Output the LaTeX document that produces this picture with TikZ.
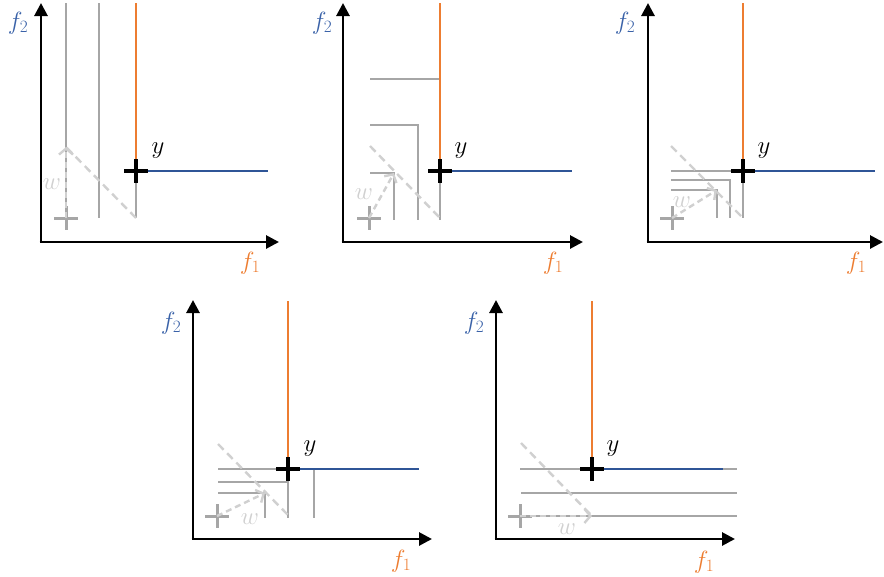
\documentclass[tikz,border=0pt]{standalone}
\usetikzlibrary{arrows.meta}
\definecolor{gline}{HTML}{A6A6A6}
\definecolor{lgray}{HTML}{D0D0D0}
\definecolor{ora}{HTML}{ED7D31}
\definecolor{blu}{HTML}{2F5597}
\definecolor{blutxt}{HTML}{3A62A8}
\begin{document}
\begin{tikzpicture}[x=1pt,y=-1pt,
  axis/.style={line width=2.8pt,-{Triangle[length=13pt,width=13pt]}},
  front/.style={line width=2.5pt,gline},
  pareto/.style={line width=2.8pt,ora},
  paretob/.style={line width=2.8pt,blu},
  diag/.style={line width=2.4pt,lgray,dash pattern=on 8pt off 5pt},
  warrow/.style={line width=2.4pt,lgray,dash pattern=on 6pt off 4pt,-{Straight Barb[length=6pt,width=14pt,line width=2.4pt]}},
  crossg/.style={line width=3pt,gline},
  crossb/.style={line width=3.4pt,black},
  lab/.style={inner sep=0pt,font=\fontsize{25}{30}\selectfont},
  f1lab/.style={lab,text=ora},
  f2lab/.style={lab,text=blutxt},
  wlab/.style={lab,text=lgray},
  ylab/.style={lab,text=black}]
\useasboundingbox (0,0) rectangle (884,576);

% ================= Panel 1 =================
\coordinate (o1) at (41,242); \coordinate (ya1) at (41,3); \coordinate (xa1) at (279,242);
\coordinate (y1) at (136,171); \coordinate (w1) at (66,218); \coordinate (wt1) at (66,147);
\coordinate (ga1) at (66,3); \coordinate (gb1) at (99,3); \coordinate (gbb1) at (99,218);
\coordinate (yt1) at (136,3); \coordinate (yb1) at (136,218); \coordinate (be1) at (268,171);
\draw[front] (ga1) -- (w1);
\draw[front] (gb1) -- (gbb1);
\draw[front] (y1) -- (yb1);
\draw[diag] (yb1) -- (wt1);
\draw[crossg] (w1) ++(-12,0) -- ++(24,0) (w1) ++(0,-12) -- ++(0,24);
\draw[warrow] (w1) -- (wt1);
\draw[pareto] (yt1) -- (y1);
\draw[paretob] (y1) -- (be1);
\draw[crossb] (y1) ++(-12,0) -- ++(24,0) (y1) ++(0,-12) -- ++(0,24);
\draw[axis] (o1) -- (ya1);
\draw[axis] ([xshift=-1.4pt]o1) -- (xa1);
\node[f2lab] (f2a) at (18,23) {$f_2$};
\node[f1lab] (f1a) at (250,263) {$f_1$};
\node[ylab] (ya) at (158,151) {$y$};
\node[wlab] (wa) at (52,184) {$w$};

% ================= Panel 2 =================
\coordinate (o2) at (343,242); \coordinate (ya2) at (343,3); \coordinate (xa2) at (583,242);
\coordinate (y2) at (440,171); \coordinate (w2) at (369,218); \coordinate (wt2) at (394,173);
\coordinate (yt2) at (440,3); \coordinate (yb2) at (440,220); \coordinate (be2) at (572,171);
\draw[front] (370,79) -- (440,79);
\draw[front] (370,125) -- (418,125) -- (418,220);
\draw[front] (370,173) -- (394,173) -- (394,220);
\draw[front] (y2) -- (yb2);
\draw[diag] (370,146) -- (440,218);
\draw[crossg] (w2) ++(-12,0) -- ++(24,0) (w2) ++(0,-12) -- ++(0,24);
\draw[warrow] (w2) -- (wt2);
\draw[pareto] (yt2) -- (y2);
\draw[paretob] (y2) -- (be2);
\draw[crossb] (y2) ++(-12,0) -- ++(24,0) (y2) ++(0,-12) -- ++(0,24);
\draw[axis] (o2) -- (ya2);
\draw[axis] ([xshift=-1.4pt]o2) -- (xa2);
\node[f2lab] (f2b) at (322,23) {$f_2$};
\node[f1lab] (f1b) at (553,263) {$f_1$};
\node[ylab] (yb) at (461,151) {$y$};
\node[wlab] (wb) at (364,194) {$w$};

% ================= Panel 3 =================
\coordinate (o3) at (648,242); \coordinate (ya3) at (648,3); \coordinate (xa3) at (883,242);
\coordinate (y3) at (743,171); \coordinate (w3) at (672,218); \coordinate (wt3) at (717,190);
\coordinate (yt3) at (743,3); \coordinate (yb3) at (743,218); \coordinate (be3) at (875,171);
\draw[front] (671,171) -- (y3);
\draw[front] (671,180) -- (730,180) -- (730,218);
\draw[front] (671,190) -- (717,190) -- (717,218);
\draw[front] (y3) -- (yb3);
\draw[diag] (671,146) -- (743,218);
\draw[crossg] (w3) ++(-12,0) -- ++(24,0) (w3) ++(0,-12) -- ++(0,24);
\draw[warrow] (w3) -- (wt3);
\draw[pareto] (yt3) -- (y3);
\draw[paretob] (y3) -- (be3);
\draw[crossb] (y3) ++(-12,0) -- ++(24,0) (y3) ++(0,-12) -- ++(0,24);
\draw[axis] (o3) -- (ya3);
\draw[axis] ([xshift=-1.4pt]o3) -- (xa3);
\node[f2lab] (f2c) at (625,23) {$f_2$};
\node[f1lab] (f1c) at (856,263) {$f_1$};
\node[ylab] (yc) at (764,151) {$y$};
\node[wlab] (wc) at (682,202) {$w$};

% ================= Panel 4 =================
\coordinate (o4) at (193,539); \coordinate (ya4) at (193,300); \coordinate (xa4) at (432,539);
\coordinate (y4) at (288,469); \coordinate (w4) at (217,516); \coordinate (wt4) at (265,493);
\coordinate (yt4) at (288,301); \coordinate (yb4) at (288,518); \coordinate (be4) at (419,469);
\draw[front] (218,469) -- (y4);
\draw[front] (218,482) -- (288,482);
\draw[front] (218,493) -- (265,493) -- (265,518);
\draw[front] (y4) -- (yb4);
\draw[front] (314,469) -- (314,518);
\draw[diag] (218,444) -- (288,515);
\draw[crossg] (w4) ++(-12,0) -- ++(24,0) (w4) ++(0,-12) -- ++(0,24);
\draw[warrow] (w4) -- (wt4);
\draw[pareto] (yt4) -- (y4);
\draw[paretob] (y4) -- (be4);
\draw[crossb] (y4) ++(-12,0) -- ++(24,0) (y4) ++(0,-12) -- ++(0,24);
\draw[axis] (o4) -- (ya4);
\draw[axis] ([xshift=-1.4pt]o4) -- (xa4);
\node[f2lab] (f2d) at (171,323) {$f_2$};
\node[f1lab] (f1d) at (401,561) {$f_1$};
\node[ylab] (yd) at (310,449) {$y$};
\node[wlab] (wd) at (250,519) {$w$};

% ================= Panel 5 =================
\coordinate (o5) at (496,539); \coordinate (ya5) at (496,300); \coordinate (xa5) at (735,539);
\coordinate (y5) at (592,469); \coordinate (w5) at (520,516); \coordinate (wt5) at (592,516);
\coordinate (yt5) at (592,301); \coordinate (be5) at (723,469);
\draw[front] (520,469) -- (737,469);
\draw[front] (521,493) -- (737,493);
\draw[front] (w5) -- (737,516);
\draw[diag] (521,443) -- (592,516);
\draw[crossg] (w5) ++(-12,0) -- ++(24,0) (w5) ++(0,-12) -- ++(0,24);
\draw[warrow] (w5) -- (wt5);
\draw[pareto] (yt5) -- (y5);
\draw[paretob] (y5) -- (be5);
\draw[crossb] (y5) ++(-12,0) -- ++(24,0) (y5) ++(0,-12) -- ++(0,24);
\draw[axis] (o5) -- (ya5);
\draw[axis] ([xshift=-1.4pt]o5) -- (xa5);
\node[f2lab] (f2e) at (474,323) {$f_2$};
\node[f1lab] (f1e) at (704,562) {$f_1$};
\node[ylab] (ye) at (613,449) {$y$};
\node[wlab] (we) at (567,529) {$w$};
\end{tikzpicture}
\end{document}
